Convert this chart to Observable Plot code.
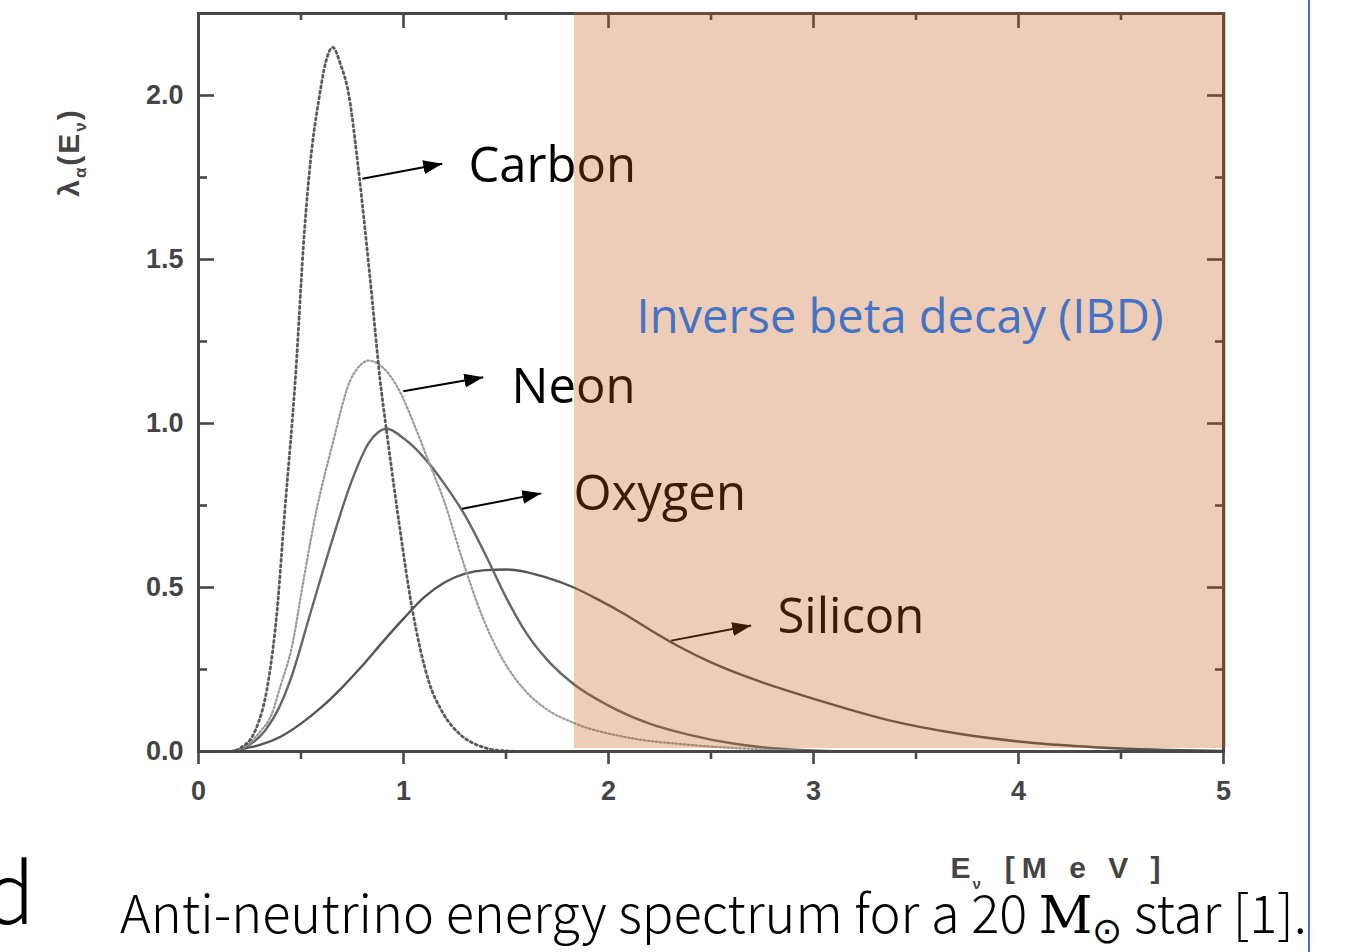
<!DOCTYPE html>
<html>
<head>
<meta charset="utf-8">
<script src="https://cdn.jsdelivr.net/npm/d3@7"></script>
<script src="https://cdn.jsdelivr.net/npm/@observablehq/plot@0.6"></script>
<style>
  html, body { margin: 0; padding: 0; background: #fff; }
  body { width: 1345px; height: 952px; overflow: hidden; position: relative; }
  #chart { position: absolute; left: 0; top: 0; }
  #caption { position: absolute; left: 120px; top: 884px; font-family: "Noto Sans CJK SC", "Noto Sans", sans-serif; font-weight: 300; font-size: 52.4px; line-height: 52px; white-space: nowrap; color: #000; }
  #caption .m { font-family: "DejaVu Serif", "Liberation Serif", serif; font-weight: normal; }
  #caption sub { font-family: "DejaVu Sans", sans-serif; font-size: 36px; vertical-align: -10px; line-height: 0; }
  #stub { position: absolute; left: -16px; top: 846px; font-family: "Noto Sans CJK SC", "Noto Sans", sans-serif; font-weight: 300; font-size: 84px; line-height: 84px; color: #000; }
  #border { position: absolute; left: 1308px; top: 0; width: 2px; height: 952px; background: #4472c4; }
</style>
</head>
<body>
<div id="chart"></div>
<div id="stub">d</div>
<div id="caption">Anti-neutrino energy spectrum for a 20 <span class="m">M</span><sub>⊙</sub> star [1].</div>
<div id="border"></div>
<script>
// ---- data ----
const carbonE = [0, 0.15, 0.21, 0.277, 0.341, 0.382, 0.42, 0.472, 0.517, 0.545, 0.589, 0.62, 0.655, 0.69, 0.735, 0.777, 0.813, 0.846, 0.886, 0.915, 0.972, 1.041, 1.122, 1.19, 1.28, 1.38, 1.47, 1.6, 2.5, 5];
const carbonL = [0, 0, 0.013, 0.064, 0.216, 0.42, 0.725, 1.131, 1.588, 1.792, 1.995, 2.10, 2.147, 2.10, 1.995, 1.792, 1.588, 1.385, 1.131, 0.989, 0.725, 0.44, 0.216, 0.12, 0.05, 0.015, 0.003, 0, 0, 0];

const neonE = [0, 0.15, 0.244, 0.3, 0.358, 0.4, 0.455, 0.512, 0.572, 0.65, 0.74, 0.79, 0.829, 0.9, 0.98, 1.05, 1.122, 1.2, 1.278, 1.392, 1.48, 1.587, 1.7, 1.831, 2.1, 2.4, 2.8, 3.2, 5];
const neonL = [0, 0, 0.023, 0.06, 0.115, 0.2, 0.318, 0.521, 0.725, 0.928, 1.131, 1.178, 1.192, 1.17, 1.10, 1.0, 0.885, 0.76, 0.603, 0.40, 0.285, 0.19, 0.128, 0.087, 0.042, 0.02, 0.005, 0, 0];

const oxygenE = [0, 0.15, 0.228, 0.325, 0.39, 0.447, 0.545, 0.642, 0.748, 0.83, 0.919, 1.0, 1.122, 1.2, 1.3, 1.4, 1.5, 1.6, 1.7, 1.831, 2.0, 2.2, 2.4, 2.6, 2.8, 3.0, 3.2, 5];
const oxygenL = [0, 0, 0.013, 0.064, 0.13, 0.216, 0.42, 0.623, 0.826, 0.94, 0.984, 0.955, 0.88, 0.815, 0.72, 0.60, 0.47, 0.36, 0.28, 0.205, 0.14, 0.085, 0.05, 0.025, 0.01, 0.003, 0, 0];

const siliconE = [0, 0.15, 0.228, 0.3, 0.4, 0.5, 0.6, 0.7, 0.8, 0.9, 1.0, 1.1, 1.2, 1.3, 1.4, 1.5, 1.6, 1.7, 1.831, 1.95, 2.075, 2.2, 2.35, 2.5, 2.7, 3.03, 3.37, 3.71, 4.04, 4.37, 4.88, 5];
const siliconL = [0, 0, 0.01, 0.02, 0.045, 0.085, 0.135, 0.195, 0.262, 0.335, 0.405, 0.47, 0.515, 0.542, 0.553, 0.555, 0.547, 0.53, 0.50, 0.463, 0.42, 0.372, 0.318, 0.272, 0.222, 0.155, 0.095, 0.054, 0.028, 0.013, 0.003, 0.002];

const elementNames = ["Carbon", "Neon", "Oxygen", "Silicon"];
const labelE = [1.317, 1.527, 1.829, 2.824];
const labelL = [1.735, 1.064, 0.735, 0.360];
const arrowE1 = [0.799, 0.999, 1.286, 2.306];
const arrowL1 = [1.746, 1.098, 0.740, 0.338];
const arrowE2 = [1.189, 1.389, 1.672, 2.696];
const arrowL2 = [1.792, 1.141, 0.787, 0.384];

const ibdStart = 1.834;
const ibdLabel = "Inverse beta decay (IBD)";
const ibdLabelE = 2.137, ibdLabelL = 1.277;

const xDomain = [0, 5];
const yDomain = [0, 2.25];
const xMajor = [0, 1, 2, 3, 4, 5];
const xMinor = [0.5, 1.5, 2.5, 3.5, 4.5];
const yMajor = [0, 0.5, 1.0, 1.5, 2.0];
const yMinor = [0.25, 0.75, 1.25, 1.75];

const yLabel = "λα(Eν)";
const xLabel = "E [M e V ]";

// ---- build ----
const toRows = (E, L) => E.map((e, i) => ({e, v: L[i]}));
const carbon = toRows(carbonE, carbonL);
const neon = toRows(neonE, neonL);
const oxygen = toRows(oxygenE, oxygenL);
const silicon = toRows(siliconE, siliconL);
const labels = elementNames.map((name, i) => ({name, e: labelE[i], v: labelL[i]}));
const arrows = elementNames.map((name, i) => ({x1: arrowE1[i], y1: arrowL1[i], x2: arrowE2[i], y2: arrowL2[i]}));

const W = 1345, H = 890, ML = 198, MR = 122, MT = 13, MB = 139;
const FW = W - ML - MR, FH = H - MT - MB;
const axisColor = "#474747", labelColor = "#444";

function triHead(color) {
  const m = d3.create("svg:marker")
    .attr("viewBox", "-19 -7 19 14")
    .attr("refX", 0).attr("refY", 0)
    .attr("markerWidth", 19).attr("markerHeight", 14)
    .attr("markerUnits", "userSpaceOnUse")
    .attr("orient", "auto");
  m.append("path").attr("d", "M-19,-7L0,0L-19,7Z").attr("fill", color).attr("stroke", "none");
  return m.node();
}

const tickStyle = {stroke: axisColor, strokeWidth: 2.6};
const chart = Plot.plot({
  width: W, height: H,
  marginLeft: ML, marginRight: MR, marginTop: MT, marginBottom: MB,
  x: {domain: xDomain},
  y: {domain: yDomain},
  style: {fontFamily: "'Liberation Sans', Arial, sans-serif", background: "transparent", overflow: "visible"},
  marks: [
    Plot.line(silicon, {x: "e", y: "v", stroke: "#555", strokeWidth: 2.4, curve: "monotone-x", clip: true}),
    Plot.line(oxygen, {x: "e", y: "v", stroke: "#666", strokeWidth: 2.4, curve: "monotone-x", clip: true}),
    Plot.line(neon, {x: "e", y: "v", stroke: "#9a9a9a", strokeWidth: 2.2, strokeDasharray: "1.6 2.4", curve: "monotone-x", clip: true}),
    Plot.line(carbon, {x: "e", y: "v", stroke: "#5a5a5a", strokeWidth: 2.8, strokeDasharray: "2 3.4", curve: "monotone-x", clip: true}),
    Plot.frame({stroke: axisColor, strokeWidth: 3}),
    // inward ticks left/right/top, outward bottom
    Plot.tickY(yMajor, {y: d => d, insetRight: FW - 16, ...tickStyle}),
    Plot.tickY(yMinor, {y: d => d, insetRight: FW - 9, ...tickStyle}),
    Plot.tickY(yMajor, {y: d => d, insetLeft: FW - 16, ...tickStyle}),
    Plot.tickY(yMinor, {y: d => d, insetLeft: FW - 8, ...tickStyle}),
    Plot.tickX(xMajor, {x: d => d, insetBottom: FH - 15, ...tickStyle}),
    Plot.tickX(xMinor, {x: d => d, insetBottom: FH - 7, ...tickStyle}),
    Plot.tickX(xMajor, {x: d => d, insetTop: FH, insetBottom: -13, ...tickStyle}),
    Plot.tickX(xMinor, {x: d => d, insetTop: FH, insetBottom: -8, ...tickStyle}),
    Plot.axisY({ticks: yMajor, tickSize: 0, tickPadding: 15, tickFormat: d3.format(".1f"), fontSize: 27, fontWeight: "bold", fill: labelColor, label: null}),
    Plot.axisX({ticks: xMajor, tickSize: 0, tickPadding: 29, tickFormat: d3.format("d"), fontSize: 27, fontWeight: "bold", fill: labelColor, label: null}),
    // element labels and arrows
    Plot.text(labels, {x: "e", y: "v", text: "name", textAnchor: "start", lineAnchor: "bottom", fontSize: 49, fontFamily: "'Open Sans', sans-serif", fill: "#000"}),
    Plot.link(arrows, {x1: "x1", y1: "y1", x2: "x2", y2: "y2", stroke: "#000", strokeWidth: 2, markerEnd: triHead}),
    // IBD region
    Plot.rect([{x1: ibdStart, x2: xDomain[1], y1: yDomain[0], y2: yDomain[1]}], {x1: "x1", x2: "x2", y1: "y1", y2: "y2", fill: "#c55a11", fillOpacity: 0.3, insetTop: -1, insetRight: -3, insetBottom: 3}),
    Plot.text([ibdLabel], {x: ibdLabelE, y: ibdLabelL, text: d => d, textAnchor: "start", lineAnchor: "bottom", fontSize: 47, fontFamily: "'Open Sans', sans-serif", fill: "#4472c4"}),
    // axis titles
    Plot.text([yLabel], {frameAnchor: "top-left", dx: -120, dy: 139, rotate: -90, text: d => d, textAnchor: "middle", lineAnchor: "bottom", fontSize: 30, fontWeight: "bold", fill: labelColor}),
    Plot.text([xLabel], {frameAnchor: "bottom-left", dx: 752, dy: 126, text: d => d, textAnchor: "start", lineAnchor: "bottom", fontSize: 30, fontWeight: "bold", fill: labelColor})
  ]
});

// subscripts in axis titles
d3.select(chart).selectAll("text").filter(function() { return this.textContent === yLabel; })
  .attr("letter-spacing", 2)
  .each(function() {
    const t = d3.select(this).text(null);
    t.append("tspan").text("λ");
    t.append("tspan").attr("font-size", 17).attr("dy", 7).text("α");
    t.append("tspan").attr("dy", -7).text("(E");
    t.append("tspan").attr("font-size", 17).attr("dy", 7).text("ν");
    t.append("tspan").attr("dy", -7).text(")");
  });
d3.select(chart).selectAll("text").filter(function() { return this.textContent === xLabel; })
  .each(function() {
    const t = d3.select(this).text(null);
    t.append("tspan").text("E");
    t.append("tspan").attr("font-size", 15).attr("dy", 11).attr("dx", 2).text("ν");
    t.append("tspan").attr("dy", -11).attr("dx", 24).attr("letter-spacing", 7).text("[M e V ]");
  });

document.getElementById("chart").append(chart);
</script>
</body>
</html>
